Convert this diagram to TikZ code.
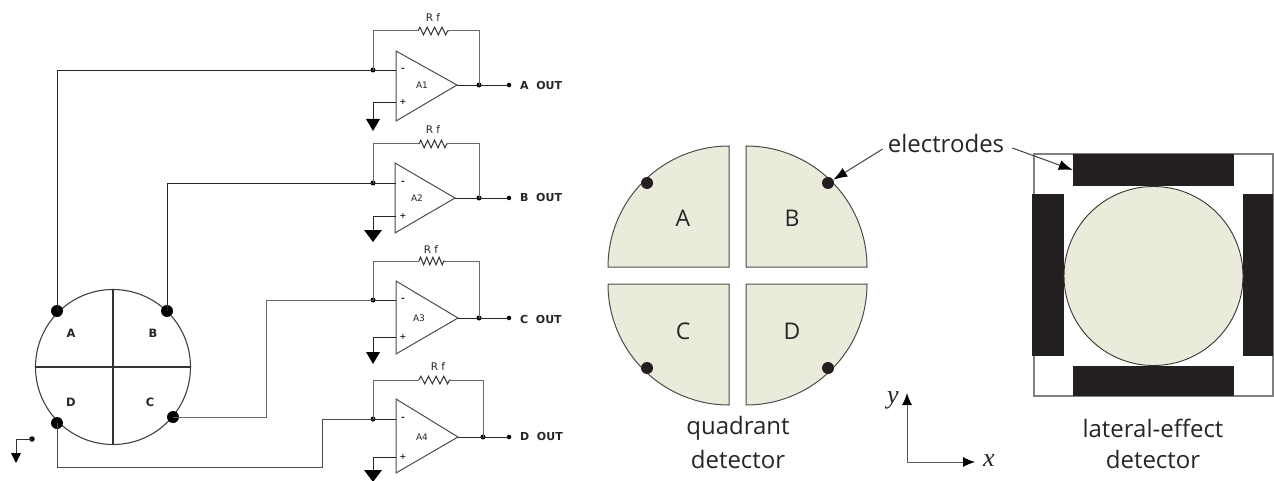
\documentclass[tikz,border=0pt]{standalone}
\usepackage{fontspec}
\setmainfont{Open Sans}
\newfontfamily\circfont{DejaVu Sans}
\newfontfamily\axfont{Liberation Serif}
\usetikzlibrary{arrows.meta,decorations.pathmorphing,calc}
\definecolor{pale}{HTML}{EBEBDC}
\definecolor{bar}{HTML}{231F20}
\definecolor{wgray}{HTML}{6A6A6A}
\tikzset{
  x=1pt,y=-1pt,
  wire/.style={line width=.95pt,draw=black!85},
  thin wire/.style={line width=1pt,draw=wgray},
  amp/.style={line width=1pt,draw=black!70},
  jdot/.style={circle,fill=black,inner sep=0pt,minimum size=5pt},
  edot/.style={circle,fill=black,inner sep=0pt,minimum size=12pt},
  qdot/.style={circle,fill=bar,inner sep=0pt,minimum size=12pt},
  quadr/.style={fill=pale,draw=black!70,line width=1pt},
  elect/.style={rectangle,fill=bar,inner sep=0pt},
  captxt/.style={font=\fontsize{24}{28}\selectfont,text=black!85,inner sep=0pt},
  smalltxt/.style={font=\circfont\fontsize{9}{10}\selectfont,text=black!85,inner sep=0pt},
  outlab/.style={font=\circfont\bfseries\fontsize{11}{13}\selectfont,text=black!85,inner sep=0pt,anchor=west},
  seglab/.style={font=\circfont\bfseries\fontsize{11.5}{13}\selectfont,text=black!85,inner sep=0pt},
  qlab/.style={font=\fontsize{23}{27}\selectfont,text=black!85,inner sep=0pt},
  axl/.style={font=\axfont\itshape\fontsize{26}{28}\selectfont,text=black!85,inner sep=0pt},
  pointer/.style={line width=1pt,draw=black!75,-{Latex[length=14pt,width=10pt,black]}},
}
\begin{document}
\begin{tikzpicture}
\useasboundingbox (0,0) rectangle (1274,481);

% op amps
\foreach \i/\l/\t/\b/\tx/\ty/\mi/\pl/\fb/\ra/\rb/\rx/\gt/\gw/\rl/\ry/\ax/\txt/\oy in {
 1/396/51/121/457/85/70/102/31/418/449/479/119/7/433/18/422/A/85,
 2/395/163/233/455/198/183/216/144/419/448/479/230/9/433/130/417/B/197,
 3/396/281/354/458/318/300/337/261/419/445/479/352/7/431/250/419/C/319,
 4/396/399/473/458/437/419/457/380/419/451/483/470/9/438/367/422/D/436}{
  \coordinate (in\i) at (396,\mi);
  \coordinate (ip\i) at (396,\pl);
  \coordinate (tip\i) at (\tx,\ty);
  \node[jdot] (j\i) at (373,\mi) {};
  \node[jdot] (f\i) at (\rx,\ty) {};
  \node[jdot,minimum size=4.5pt] (o\i) at (509,\ty) {};
  \coordinate (fa\i) at (373,\fb);
  \coordinate (fb\i) at (\rx,\fb);
  \coordinate (ra\i) at (\ra,\fb);
  \coordinate (rb\i) at (\rb,\fb);
  \coordinate (g\i) at (373,\gt);
  % triangle
  \draw[amp,fill=white,line join=miter] (\l,\t) -- (\l,\b) -- (tip\i) -- cycle;
  % wiring
  \draw[wire] (j\i.center) -- (in\i);
  \draw[wire] (ip\i) -| (g\i);
  \draw[wire] (tip\i) -- (o\i.center);
  \draw[thin wire] (j\i.center) |- (ra\i);
  \draw[thin wire] (rb\i) -| (f\i.center);
  \pgfmathsetmacro{\seglen}{(\rb-\ra)/4.2}
  \draw[thin wire,draw=black!80,decorate,decoration={zigzag,segment length=\seglen pt,amplitude=3.8pt}] (ra\i) -- (rb\i);
  % ground
  \fill[black] ($(g\i)+(-\gw,0)$) -- ($(g\i)+(\gw,0)$) -- ($(g\i)+(0,12)$) -- cycle;
  % texts
  \node[smalltxt] (amp\i) at (\ax,\ty) {A\i};
  \node[smalltxt,font=\circfont\bfseries\fontsize{9}{10}\selectfont] (mn\i) at (403,\mi) {-};
  \node[smalltxt,font=\circfont\bfseries\fontsize{8}{10}\selectfont] (pn\i) at (403,\pl) {+};
  \node[smalltxt,font=\circfont\fontsize{10.5}{12}\selectfont] (rf\i) at (\rl,\ry) {R f};
  \node[outlab] (out\i) at (520,\oy) {\txt\ \ OUT};
}

% left detector
\node[circle,draw=black!75,line width=1.1pt,minimum size=155pt,inner sep=0pt] (disc) at (113,367) {};
\draw[line width=1.1pt,draw=black!80] (disc.north) -- (disc.south);
\draw[line width=1.1pt,draw=black!80] (disc.west) -- (disc.east);
\node[edot] (pa) at (57,311) {};
\node[edot] (pb) at (167,311) {};
\node[edot] (pc) at (173,417) {};
\node[edot] (pd) at (57,423) {};
\node[seglab] (la) at (71,333) {A};
\node[seglab] (lb) at (153,333) {B};
\node[seglab] (lc) at (150,402) {C};
\node[seglab] (ld) at (71,402) {D};

% wires from detector to amps
\draw[wire] (pa.center) |- (j1.center);
\draw[wire] (pb.center) |- (j2.center);
\coordinate (c1) at (266,417);
\draw[thin wire] (pc.center) -- (c1) |- (j3.center);
\coordinate (d1) at (57,467);
\coordinate (d2) at (322,467);
\draw[thin wire,draw=black!70] (pd.center) -- (d1) -- (d2) |- (j4.center);

% small ground symbol
\node[jdot,minimum size=5.5pt] (sd) at (32,439) {};
\coordinate (sc) at (16,439);
\coordinate (st) at (16,453);
\draw[thin wire,draw=black!80] (sd.center) -- (sc) -- (st);
\fill[black] ($(st)+(-5,0)$) -- ($(st)+(5,0)$) -- ($(st)+(0,10)$) -- cycle;

% quadrant detector
\draw[quadr] (729,146) arc[start angle=90,end angle=180,radius=121pt] -- (729,267) -- cycle;
\draw[quadr] (867,267) arc[start angle=0,end angle=90,radius=121pt] -- (746,267) -- cycle;
\draw[quadr] (608,284) arc[start angle=180,end angle=270,radius=121pt] -- (729,284) -- cycle;
\draw[quadr] (746,405) arc[start angle=270,end angle=360,radius=121pt] -- (746,284) -- cycle;
\node[qdot] (qa) at (647,183) {};
\node[qdot] (qb) at (828,183) {};
\node[qdot] (qc) at (647,368) {};
\node[qdot] (qd) at (828,368) {};
\node[qlab] (qla) at (683,218) {A};
\node[qlab] (qlb) at (792,218) {B};
\node[qlab] (qlc) at (683,331) {C};
\node[qlab] (qld) at (792,331) {D};
\node[captxt] (q1) at (738,428) {quadrant};
\node[captxt] (q2) at (738,459) {detector};

% lateral-effect detector
\node[rectangle,draw=black!50,line width=1.2pt,minimum width=239pt,minimum height=242pt,inner sep=0pt] (sq) at (1153.5,275) {};
\node[elect,minimum width=161pt,minimum height=32pt] (bt) at (1153.5,170) {};
\node[elect,minimum width=161pt,minimum height=30pt] (bb) at (1153.5,381) {};
\node[elect,minimum width=32pt,minimum height=162pt] (bl) at (1048,275) {};
\node[elect,minimum width=30pt,minimum height=162pt] (br) at (1258,275) {};
\node[circle,fill=pale,draw=black!80,line width=.9pt,minimum size=179pt,inner sep=0pt] (lat) at (1153.5,276) {};
\node[captxt] (l1) at (1153,428) {lateral-effect};
\node[captxt] (l2) at (1153,459) {detector};

% electrodes
\node[captxt] (el) at (946,144) {electrodes};
\draw[pointer] ($(el.west)+(-5,5)$) -- (qb);
\draw[pointer] ($(el.east)+(8,4)$) -- (bt.west);

% axes
\coordinate (or) at (907,462);
\coordinate (ye) at (907,393);
\coordinate (xe) at (975,462);
\draw[line width=1pt,draw=black!65,-{Latex[length=12pt,width=10pt,black]}] (or) -- (ye);
\draw[line width=1pt,draw=black!65,-{Latex[length=12pt,width=10pt,black]}] (or) -- (xe);
\node[axl] (ly) at (893,400) {y};
\node[axl] (lx) at (989,461) {x};
\end{tikzpicture}
\end{document}
